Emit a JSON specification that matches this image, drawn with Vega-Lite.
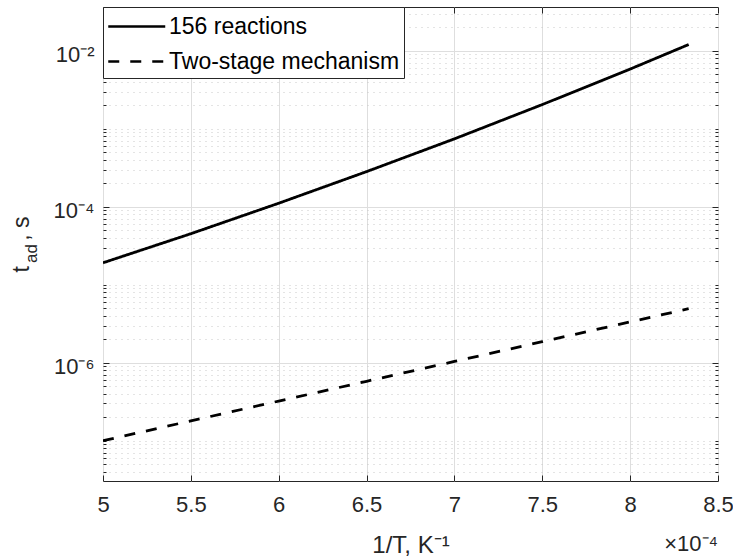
{
  "$schema": "https://vega.github.io/schema/vega-lite/v6.json",
  "width": 615,
  "height": 474,
  "autosize": {"type": "none"},
  "padding": {"left": 103, "top": 7, "right": 15, "bottom": 79},
  "config": {
    "font": "Liberation Sans",
    "view": {"stroke": "#262626", "strokeWidth": 1},
    "axis": {"domain": false, "labelColor": "#262626", "titleColor": "#262626", "tickColor": "#262626", "tickWidth": 1, "labelFont": "Liberation Sans", "titleFont": "Liberation Sans", "titleFontWeight": "normal", "labelOverlap": false, "labelBound": false, "labelFlush": false}
  },
  "data": {
    "values": [
      {"series": "156 reactions", "x": 5.0, "t": 1.914e-5},
      {"series": "156 reactions", "x": 5.5, "t": 4.52e-5},
      {"series": "156 reactions", "x": 6.0, "t": 1.112e-4},
      {"series": "156 reactions", "x": 6.5, "t": 2.83e-4},
      {"series": "156 reactions", "x": 7.0, "t": 7.45e-4},
      {"series": "156 reactions", "x": 7.5, "t": 2.05e-3},
      {"series": "156 reactions", "x": 8.0, "t": 5.85e-3},
      {"series": "156 reactions", "x": 8.333, "t": 1.208e-2},
      {"series": "Two-stage mechanism", "x": 5.0, "t": 1.0e-7},
      {"series": "Two-stage mechanism", "x": 5.5, "t": 1.795e-7},
      {"series": "Two-stage mechanism", "x": 6.0, "t": 3.22e-7},
      {"series": "Two-stage mechanism", "x": 6.5, "t": 5.78e-7},
      {"series": "Two-stage mechanism", "x": 7.0, "t": 1.038e-6},
      {"series": "Two-stage mechanism", "x": 7.5, "t": 1.862e-6},
      {"series": "Two-stage mechanism", "x": 8.0, "t": 3.34e-6},
      {"series": "Two-stage mechanism", "x": 8.333, "t": 4.93e-6}
    ]
  },
  "layer": [
    {
      "mark": {"type": "line", "color": "black", "strokeWidth": 2.8, "clip": true},
      "encoding": {
        "x": {
          "field": "x", "type": "quantitative",
          "scale": {"domain": [5, 8.5], "nice": false, "zero": false},
          "axis": {
            "orient": "bottom",
            "values": [5, 5.5, 6, 6.5, 7, 7.5, 8, 8.5],
            "format": "~g",
            "title": "1/T, K⁻¹", "titleFontSize": 24, "titleY": 71, "titleBaseline": "alphabetic",
            "labelFontSize": 22, "labelPadding": 19,
            "grid": true, "gridColor": "#dedede", "gridWidth": 1,
            "tickSize": -6
          }
        },
        "y": {
          "field": "t", "type": "quantitative",
          "scale": {"type": "log", "domain": [3.04e-8, 0.0366], "nice": false},
          "axis": {
            "orient": "left",
            "values": [4e-8, 5e-8, 6e-8, 7e-8, 8e-8, 9e-8, 1e-7, 2e-7, 3e-7, 4e-7, 5e-7, 6e-7, 7e-7, 8e-7, 9e-7, 1e-6, 2e-6, 3e-6, 4e-6, 5e-6, 6e-6, 7e-6, 8e-6, 9e-6, 1e-5, 2e-5, 3e-5, 4e-5, 5e-5, 6e-5, 7e-5, 8e-5, 9e-5, 1e-4, 2e-4, 3e-4, 4e-4, 5e-4, 6e-4, 7e-4, 8e-4, 9e-4, 1e-3, 2e-3, 3e-3, 4e-3, 5e-3, 6e-3, 7e-3, 8e-3, 9e-3, 1e-2, 2e-2, 3e-2],
            "labelExpr": "datum.value == 0.01 ? '10⁻²' : datum.value == 0.0001 ? '10⁻⁴' : datum.value == 0.000001 ? '10⁻⁶' : ''",
            "labelFontSize": 22, "labelPadding": 15, "labelOffset": 4,
            "title": "t\u00a0\u00a0\u00a0\u00a0, s", "titleFontSize": 23, "titleAngle": 270, "titleX": -75, "titleY": 237, "titleBaseline": "alphabetic", "titleAlign": "center",
            "grid": true,
            "gridColor": {"condition": {"test": "datum.value == 0.01 || datum.value == 0.0001 || datum.value == 0.000001", "value": "#dedede"}, "value": "#c8c8c8"},
            "gridDash": {"condition": {"test": "datum.value == 0.01 || datum.value == 0.0001 || datum.value == 0.000001", "value": []}, "value": [1, 5]},
            "tickSize": {"condition": {"test": "datum.value == 0.01 || datum.value == 0.0001 || datum.value == 0.000001", "value": -6}, "value": -3}
          }
        },
        "strokeDash": {
          "field": "series", "type": "nominal",
          "scale": {"domain": ["156 reactions", "Two-stage mechanism"], "range": [[1, 0], [11, 11]]},
          "legend": {
            "title": null, "orient": "top-left", "offset": 0,
            "padding": 4, "strokeColor": "#262626", "fillColor": "white", "cornerRadius": 0,
            "symbolType": "M-1,0H3", "symbolSize": 812, "symbolStrokeWidth": 2.5, "symbolStrokeColor": "black", "symbolFillColor": "transparent",
            "labelFontSize": 23, "labelColor": "black", "labelOffset": 31, "labelLimit": 0, "rowPadding": 7
          }
        }
      }
    },
    {
      "mark": {"type": "line", "opacity": 0},
      "encoding": {
        "x": {
          "field": "x", "type": "quantitative",
          "axis": {"orient": "top", "values": [5, 5.5, 6, 6.5, 7, 7.5, 8, 8.5], "labels": false, "title": null, "grid": false, "tickSize": -6}
        },
        "y": {
          "field": "t", "type": "quantitative",
          "axis": {
            "orient": "right",
            "values": [4e-8, 5e-8, 6e-8, 7e-8, 8e-8, 9e-8, 1e-7, 2e-7, 3e-7, 4e-7, 5e-7, 6e-7, 7e-7, 8e-7, 9e-7, 1e-6, 2e-6, 3e-6, 4e-6, 5e-6, 6e-6, 7e-6, 8e-6, 9e-6, 1e-5, 2e-5, 3e-5, 4e-5, 5e-5, 6e-5, 7e-5, 8e-5, 9e-5, 1e-4, 2e-4, 3e-4, 4e-4, 5e-4, 6e-4, 7e-4, 8e-4, 9e-4, 1e-3, 2e-3, 3e-3, 4e-3, 5e-3, 6e-3, 7e-3, 8e-3, 9e-3, 1e-2, 2e-2, 3e-2],
            "labels": false, "title": null, "grid": false,
            "tickSize": {"condition": {"test": "datum.value == 0.01 || datum.value == 0.0001 || datum.value == 0.000001", "value": -6}, "value": -3}
          }
        },
        "detail": {"field": "series"}
      }
    },
    {
      "data": {"values": [{"lx": 8.5, "ly": 3.04e-8, "label": "×10⁻⁴"}]},
      "mark": {"type": "text", "align": "right", "baseline": "alphabetic", "dy": 70, "fontSize": 22, "color": "#262626"},
      "encoding": {
        "x": {"field": "lx", "type": "quantitative", "axis": null},
        "y": {"field": "ly", "type": "quantitative", "axis": null},
        "text": {"field": "label"}
      }
    },
    {
      "data": {"values": [{"lx": 5, "ly": 2.52e-5, "label": "ad"}]},
      "mark": {"type": "text", "align": "center", "baseline": "alphabetic", "angle": 270, "dy": -66, "fontSize": 17, "color": "#262626"},
      "encoding": {
        "x": {"field": "lx", "type": "quantitative", "axis": null},
        "y": {"field": "ly", "type": "quantitative", "axis": null},
        "text": {"field": "label"}
      }
    }
  ],
  "resolve": {"axis": {"x": "independent", "y": "independent"}}
}
